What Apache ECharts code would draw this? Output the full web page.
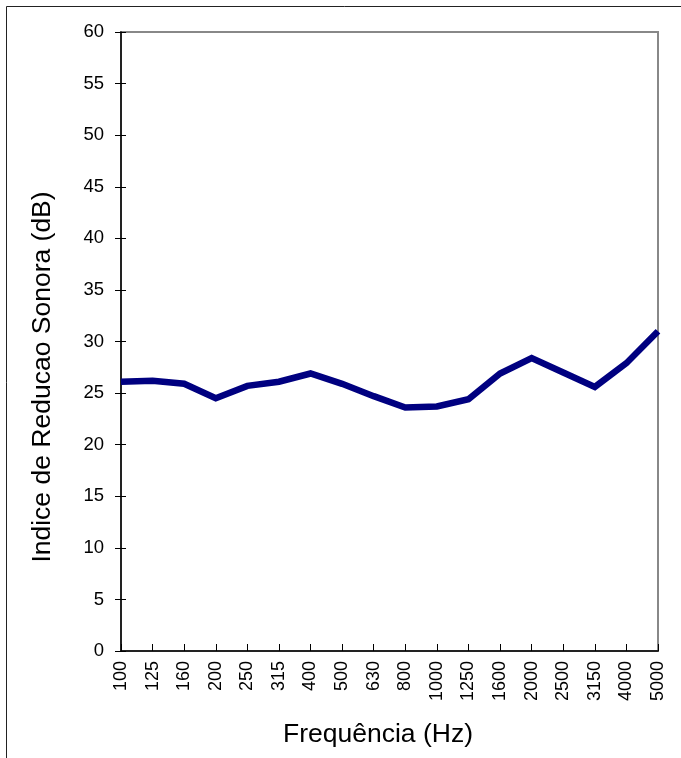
<!DOCTYPE html>
<html>
<head>
<meta charset="utf-8">
<style>
  html, body { margin: 0; padding: 0; background: #fff; }
  #chart { width: 681px; height: 758px; }
</style>
<script src="https://cdn.jsdelivr.net/npm/echarts@6/dist/echarts.min.js"></script>
</head>
<body>
<div id="chart"></div>
<script>
// Third-octave band centre frequencies (Hz)
const frequencies = ['100', '125', '160', '200', '250', '315', '400', '500', '630',
  '800', '1000', '1250', '1600', '2000', '2500', '3150', '4000', '5000'];

// Sound reduction index per band (dB)
const reductionIndex = [26.1, 26.2, 25.9, 24.5, 25.7, 26.1, 26.9, 25.9, 24.7,
  23.6, 23.7, 24.4, 26.9, 28.4, 27.0, 25.6, 27.9, 31.0];

const yTitle = 'Indice de Reducao Sonora (dB)';
const xTitle = 'Frequência (Hz)';

const FONT = '"Liberation Sans", Arial, sans-serif';

const chart = echarts.init(document.getElementById('chart'), null, { renderer: 'canvas' });

chart.setOption({
  animation: false,
  backgroundColor: '#fff',
  grid: {
    left: 121, right: 23, top: 32, bottom: 107,
    show: true,
    borderColor: '#888',
    borderWidth: 2,
    backgroundColor: 'transparent'
  },
  xAxis: {
    type: 'category',
    data: frequencies,
    boundaryGap: false,
    axisLine: { lineStyle: { color: '#000', width: 1.5 } },
    axisTick: { show: true, inside: true, length: 7, lineStyle: { color: '#000', width: 1 } },
    axisLabel: {
      interval: 0, rotate: 90, margin: 10,
      color: '#000', fontSize: 18, fontFamily: FONT
    },
    splitLine: { show: false }
  },
  yAxis: [
    {
      type: 'value', min: 0, max: 60, interval: 5,
      axisLine: { show: true, lineStyle: { color: '#000', width: 1.5 } },
      axisTick: { show: true, length: 6, lineStyle: { color: '#000', width: 1 } },
      axisLabel: { margin: 17, color: '#000', fontSize: 18.5, fontFamily: FONT },
      splitLine: { show: false }
    },
    {
      // inner half of the crossing y ticks
      type: 'value', min: 0, max: 60, interval: 5, position: 'left',
      axisLine: { show: false },
      axisTick: { show: true, inside: true, length: 5, lineStyle: { color: '#000', width: 1 } },
      axisLabel: { show: false },
      splitLine: { show: false }
    }
  ],
  series: [{
    type: 'line',
    data: reductionIndex,
    yAxisIndex: 0,
    showSymbol: false,
    symbol: 'none',
    lineStyle: { color: '#000080', width: 6.5, join: 'miter' },
    z: 3
  }],
  graphic: [
    {
      type: 'rect',
      shape: { x: 6.5, y: 6.5, width: 720, height: 800 },
      style: { fill: 'none', stroke: '#222', lineWidth: 1 },
      silent: true, z: 0
    },
    {
      type: 'text',
      x: 43, y: 377, rotation: Math.PI / 2,
      style: {
        text: yTitle, fill: '#000', fontSize: 26.5, fontFamily: FONT,
        align: 'center', verticalAlign: 'middle'
      },
      z: 10
    },
    {
      type: 'text',
      x: 378, y: 735,
      style: {
        text: xTitle, fill: '#000', fontSize: 26.5, fontFamily: FONT,
        align: 'center', verticalAlign: 'middle'
      },
      z: 10
    }
  ]
});
</script>
</body>
</html>
